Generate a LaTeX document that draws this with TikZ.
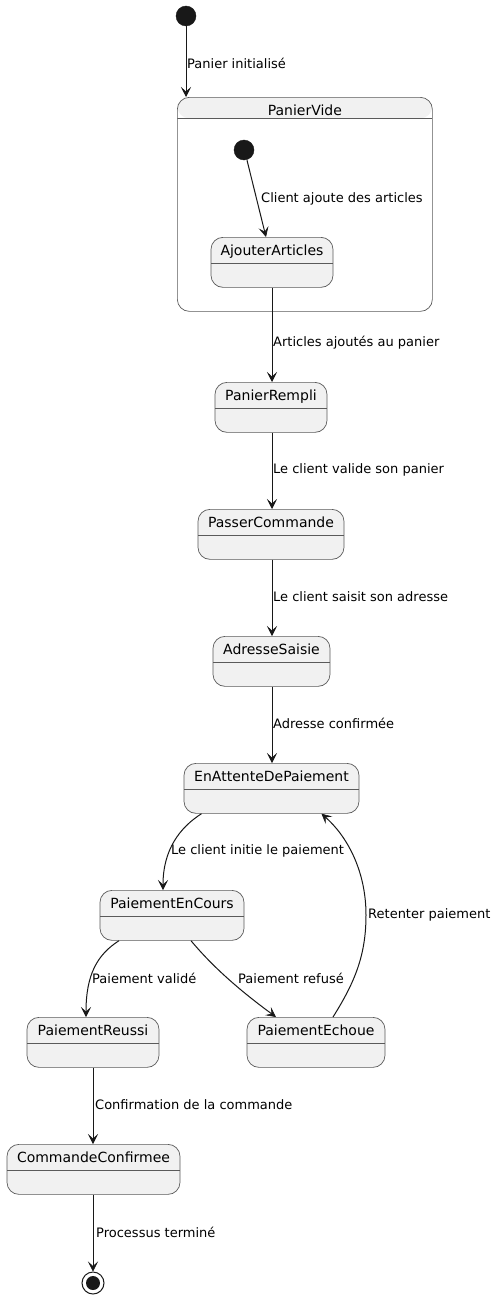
\documentclass[tikz,border=0pt]{standalone}
\usepackage{fontspec}
\setmainfont{DejaVu Sans}
\usetikzlibrary{arrows.meta}
\definecolor{stfill}{HTML}{F1F1F1}
\definecolor{stdraw}{HTML}{5A5A5A}
\definecolor{ink}{HTML}{181818}
\tikzset{
  stbox/.style={draw=stdraw, line width=0.7pt, fill=stfill, rounded corners=12pt,
    inner xsep=0pt, inner ysep=0pt, text height=18pt, text depth=32pt,
    minimum height=50pt, anchor=north, font=\fontsize{14}{16}\selectfont,
    path picture={\draw[stdraw, line width=0.7pt]
      ([yshift=-26pt]path picture bounding box.north west) --
      ([yshift=-26pt]path picture bounding box.north east);}},
  compbox/.style={draw=stdraw, line width=0.7pt, fill=white, rounded corners=12pt,
    inner xsep=0pt, inner ysep=0pt, text height=18pt, text depth=196pt,
    minimum height=214pt, anchor=north west, font=\fontsize{14}{16}\selectfont,
    path picture={\fill[stfill]
      (path picture bounding box.north west) rectangle
      ([yshift=-21pt]path picture bounding box.north east);
      \draw[stdraw, line width=0.7pt]
      ([yshift=-21pt]path picture bounding box.north west) --
      ([yshift=-21pt]path picture bounding box.north east);}},
  initst/.style={circle, fill=ink, draw=ink, minimum size=20pt, inner sep=0pt},
  finst/.style={circle, draw=ink, line width=1pt, fill=white, minimum size=22pt, inner sep=0pt,
    path picture={\fill[ink] (path picture bounding box.center) circle (7pt);}},
  tr/.style={draw=ink, line width=1pt, -{Stealth[length=10pt,width=10pt,inset=4.5pt,line width=0.6pt]}},
  lbl/.style={anchor=west, inner sep=0pt, font=\fontsize{13}{15}\selectfont, text=black},
}
\begin{document}
\begin{tikzpicture}[x=1pt,y=1pt]
\useasboundingbox (0,0) rectangle (497,-1298);
\fill[white] (0,0) rectangle (497,-1298);

% composite state
\node[compbox, minimum width=255pt] (pv) at (177,-97) {PanierVide};

% initial states
\node[initst] (s0) at (186,-16) {};
\node[initst] (s1) at (244,-150) {};

% states
\node[stbox, minimum width=122pt] (aj) at (272,-237) {AjouterArticles};
\node[stbox, minimum width=112pt] (pr) at (271,-382) {PanierRempli};
\node[stbox, minimum width=146pt] (pc) at (271,-509) {PasserCommande};
\node[stbox, minimum width=117pt] (as) at (271.5,-636) {AdresseSaisie};
\node[stbox, minimum width=175pt] (ea) at (271.5,-763) {EnAttenteDePaiement};
\node[stbox, minimum width=144pt] (pec) at (172,-890) {PaiementEnCours};
\node[stbox, minimum width=132pt] (prs) at (93,-1017) {PaiementReussi};
\node[stbox, minimum width=138pt] (pe) at (316,-1017) {PaiementEchoue};
\node[stbox, minimum width=173pt] (cc) at (93.5,-1144) {CommandeConfirmee};

% final state
\node[finst] (fin) at (93,-1283) {};

% transitions
\draw[tr] (s0.south) -- (s0.south |- pv.north);
\node[lbl] (l1) at (187,-63) {Panier initialisé};

\draw[tr] ([xshift=3pt]s1.south) -- ([xshift=-6pt]aj.north);
\node[lbl] (l2) at (261,-199) {Client ajoute des articles};

\draw[tr] (aj.south) -- (aj.south |- pr.north);
\node[lbl] (l3) at (273,-343) {Articles ajoutés au panier};

\draw[tr] (pr.south -| aj.south) -- (aj.south |- pc.north);
\node[lbl] (l4) at (273,-470) {Le client valide son panier};

\draw[tr] (pc.south -| aj.south) -- (aj.south |- as.north);
\node[lbl] (l5) at (273,-597) {Le client saisit son adresse};

\draw[tr] (as.south -| aj.south) -- (aj.south |- ea.north);
\node[lbl] (l6) at (273,-723) {Adresse confirmée};

\draw[tr] ([xshift=-70pt]ea.south) .. controls +(-22,-14) and +(0,40) .. ([xshift=-9pt]pec.north);
\node[lbl] (l7) at (171,-851) {Le client initie le paiement};

\draw[tr] ([xshift=-53pt]pec.south) .. controls +(-22,-14) and +(0,42) .. ([xshift=-7pt]prs.north);
\node[lbl] (l8) at (92,-978) {Paiement validé};

\draw[tr] ([xshift=19pt]pec.south) .. controls +(25,-30) and +(-30,22) .. ([xshift=-40pt]pe.north);
\node[lbl] (l9) at (238,-978) {Paiement refusé};

\coordinate (rt) at (366,-915);
\draw[tr] ([xshift=17pt]pe.north) .. controls +(22,35) and +(0,-40) .. (rt)
  .. controls +(0,45) and +(25,-22) .. ([xshift=50pt]ea.south);
\node[lbl] (l10) at (368,-915) {Retenter paiement};

\draw[tr] (prs.south) -- (prs.south |- cc.north);
\node[lbl] (l11) at (95,-1105) {Confirmation de la commande};

\draw[tr] (cc.south -| prs.south) -- (fin.north);
\node[lbl] (l12) at (96,-1232) {Processus terminé};
\end{tikzpicture}
\end{document}
